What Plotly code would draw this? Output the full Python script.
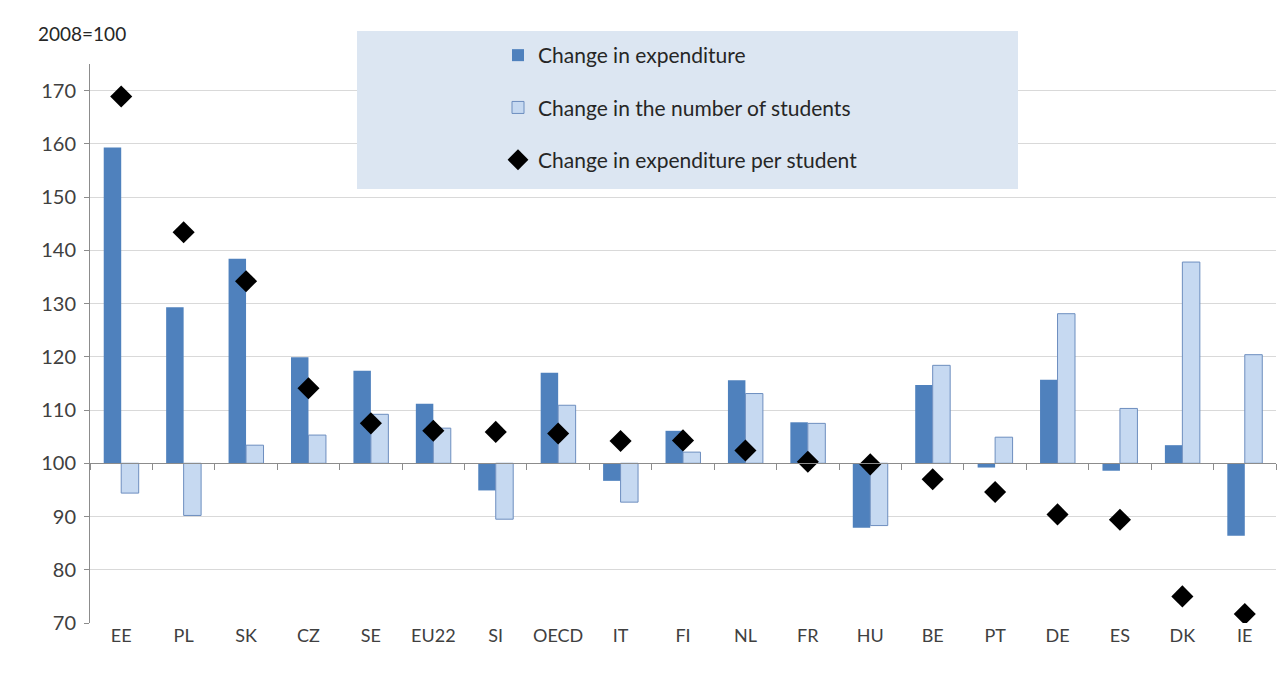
import plotly.graph_objects as go

categories = ["EE", "PL", "SK", "CZ", "SE", "EU22", "SI", "OECD", "IT", "FI",
              "NL", "FR", "HU", "BE", "PT", "DE", "ES", "DK", "IE"]
expenditure = [159.3, 129.3, 138.4, 119.9, 117.4, 111.2, 94.9, 117.0, 96.7, 106.1,
               115.6, 107.7, 87.9, 114.7, 99.2, 115.7, 98.6, 103.4, 86.4]
students = [94.4, 90.2, 103.4, 105.3, 109.2, 106.6, 89.5, 110.9, 92.7, 102.1,
            113.1, 107.5, 88.3, 118.4, 104.9, 128.1, 110.3, 137.8, 120.4]
per_student = [168.9, 143.4, 134.2, 114.1, 107.5, 106.1, 105.9, 105.6, 104.2, 104.3,
               102.4, 100.3, 99.8, 97.0, 94.6, 90.4, 89.4, 75.0, 71.7]
y_ticks = [70, 80, 90, 100, 110, 120, 130, 140, 150, 160, 170]
base_value = 100
y_min, y_max = 70, 175

font_family = "Lato, 'Open Sans', sans-serif"
text_color = "#404040"

# layout geometry (paper spans y from 20px to 623px)
H, W = 699, 1284
m_l, m_r, m_t, m_b = 90, 8, 20, 76
paper_h = H - m_t - m_b
plot_top_px = 64
y_dom_top = (H - m_b - plot_top_px) / paper_h


def py(px):
    return (H - m_b - px) / paper_h


def px_x(px):
    return (px - m_l) / (W - m_l - m_r)


fig = go.Figure()
fig.add_trace(go.Bar(
    x=categories, y=[v - base_value for v in expenditure], base=base_value,
    name="Change in expenditure", legendgroup="a",
    marker=dict(color="#4f81bd", line=dict(width=0)),
))
fig.add_trace(go.Bar(
    x=categories, y=[v - base_value for v in students], base=base_value,
    name="Change in the number of students", legendgroup="b",
    marker=dict(color="#c6d9f1", line=dict(color="#6d8ebf", width=1)),
))
fig.add_trace(go.Scatter(
    x=categories, y=per_student, mode="markers",
    name="Change in expenditure per student", legendgroup="c",
    marker=dict(symbol="diamond", color="black", size=17),
))
# helper trace for the category axis drawn at 100
fig.add_trace(go.Scatter(
    x=categories, y=[base_value] * len(categories), xaxis="x2", mode="markers",
    marker=dict(opacity=0), showlegend=False, hoverinfo="skip",
))

x_range = [-0.5, len(categories) - 0.5]

fig.update_layout(
    width=W, height=H,
    margin=dict(l=m_l, r=m_r, t=m_t, b=m_b),
    paper_bgcolor="white", plot_bgcolor="white",
    barmode="group", bargap=0.44, bargroupgap=0,
    font=dict(family=font_family, size=18, color=text_color),
    showlegend=True,
    legend=dict(
        x=px_x(498), y=py(35), xanchor="left", yanchor="top",
        bgcolor="rgba(0,0,0,0)", tracegroupgap=22,
        font=dict(family=font_family, size=21, color="#262626"),
        itemwidth=30,
    ),
    xaxis=dict(
        range=x_range, categoryorder="array", categoryarray=categories,
        showline=False, ticks="", showgrid=False, zeroline=False,
        tickfont=dict(size=18, color=text_color),
    ),
    xaxis2=dict(
        overlaying="x", matches="x", anchor="free",
        position=(base_value - y_min) / (y_max - y_min) * y_dom_top,
        showline=True, linecolor="#8c8c8c", linewidth=1,
        ticks="outside", tickson="boundaries", ticklen=6, tickcolor="#8c8c8c",
        showticklabels=False, showgrid=False, zeroline=False,
        categoryorder="array", categoryarray=categories,
    ),
    yaxis=dict(
        domain=[0, y_dom_top],
        range=[y_min, y_max], tickvals=y_ticks,
        showgrid=True, gridcolor="#d9d9d9", gridwidth=1,
        showline=True, linecolor="#8c8c8c", linewidth=1,
        ticks="outside", ticklen=5, tickcolor="#8c8c8c",
        ticklabelstandoff=4,
        zeroline=False, tickfont=dict(size=20, color=text_color),
    ),
    shapes=[dict(
        type="rect", xref="paper", yref="paper",
        x0=px_x(357), x1=px_x(1018), y0=py(189), y1=py(31),
        fillcolor="#dce6f2", line=dict(width=0), layer="above",
    )],
    annotations=[dict(
        text="2008=100", xref="paper", yref="paper",
        x=px_x(36), y=py(33), xanchor="left", yanchor="middle",
        showarrow=False, font=dict(size=19, color="#262626"),
    )],
)

fig.write_html("out.html", config={"displayModeBar": False},
               post_script="document.body.style.margin='0px';")
